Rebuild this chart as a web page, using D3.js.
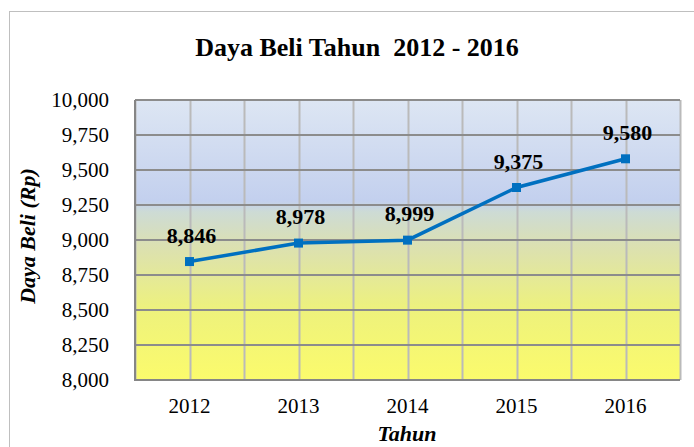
<!DOCTYPE html>
<meta charset="utf-8">
<style>
body { margin: 0; background: #fff; }
svg { display: block; }
svg text { font-family: "Times New Roman", Tinos, "Liberation Serif", "DejaVu Serif", serif; fill: #000; }
.tick text { font-size: 21px; }
.label { font-size: 22px; font-weight: bold; }
.title { font-size: 26px; font-weight: bold; white-space: pre; }
.axisTitle { font-size: 22px; font-weight: bold; font-style: italic; }
</style>
<body>
<script src="https://d3js.org/d3.v7.min.js"></script>
<script>

var years = ["2012", "2013", "2014", "2015", "2016"];
var dayaBeli = [8846, 8978, 8999, 9375, 9580];
var yTicks = [8000, 8250, 8500, 8750, 9000, 9250, 9500, 9750, 10000];

var serif = "'Times New Roman', Tinos, 'Liberation Serif', 'DejaVu Serif', serif";

var width = 694,
    height = 447;
var margin = {top: 100, right: 14, bottom: 67, left: 135};
var w = width - margin.left - margin.right,
    h = height - margin.top - margin.bottom;

var svg = d3.select("body").append("svg")
    .attr("width", width)
    .attr("height", height)
    .attr("font-family", serif);

// chart border
svg.append("rect")
    .attr("x", 9.5).attr("y", 11.5)
    .attr("width", width).attr("height", height)
    .attr("fill", "none")
    .attr("stroke", "#bfbfbf");

var defs = svg.append("defs");
var grad = defs.append("linearGradient")
    .attr("id", "bg")
    .attr("x1", 0).attr("y1", 0).attr("x2", 0).attr("y2", 1);
[["0%", "#dde6f3"], ["36%", "#c3d0ee"], ["40%", "#cddbd5"], ["52%", "#dbe0b2"], ["75%", "#eef27c"], ["100%", "#fbfb6c"]]
  .forEach(function(s) { grad.append("stop").attr("offset", s[0]).attr("stop-color", s[1]); });

var g = svg.append("g")
    .attr("transform", "translate(" + margin.left + "," + margin.top + ")");

var x = d3.scaleBand().domain(years).range([0, w]).padding(0);
var y = d3.scaleLinear().domain([8000, 10000]).range([h, 0]);

g.append("rect")
    .attr("width", w).attr("height", h)
    .attr("fill", "url(#bg)");

// vertical grid: band edges and centres
var vx = [];
years.forEach(function(d) { vx.push(x(d), x(d) + x.bandwidth() / 2); });
vx.push(w);
g.append("g").selectAll("line")
    .data(vx)
  .enter().append("line")
    .attr("x1", function(d) { return Math.round(d) + 0.5; })
    .attr("x2", function(d) { return Math.round(d) + 0.5; })
    .attr("y1", 0).attr("y2", h)
    .attr("stroke", "#bababa")
    .attr("stroke-width", 2);

// horizontal grid
g.append("g").selectAll("line")
    .data(yTicks)
  .enter().append("line")
    .attr("x1", 0).attr("x2", w)
    .attr("y1", function(d) { return Math.round(y(d)); })
    .attr("y2", function(d) { return Math.round(y(d)); })
    .attr("stroke", "#8c8c8c")
    .attr("stroke-width", 2);

// left / bottom axis line
g.append("path")
    .attr("d", "M0,0V" + h + "H" + w)
    .attr("fill", "none")
    .attr("stroke", "#868686")
    .attr("stroke-width", 2);

var yAxis = g.append("g")
    .call(d3.axisLeft(y).tickValues(yTicks).tickFormat(d3.format(",")).tickSize(0).tickPadding(26));
yAxis.select(".domain").remove();

var xAxis = g.append("g")
    .attr("transform", "translate(0," + h + ")")
    .call(d3.axisBottom(x).tickSize(0).tickPadding(18));
xAxis.select(".domain").remove();

g.selectAll(".tick text")
    .attr("fill", "#000")
    .attr("font-family", serif)
    .style("font-family", serif);
yAxis.attr("font-family", serif).attr("font-size", null);
xAxis.attr("font-family", serif).attr("font-size", null);

// line + markers
var line = d3.line()
    .x(function(d, i) { return x(years[i]) + x.bandwidth() / 2; })
    .y(function(d) { return y(d); });

g.append("path")
    .datum(dayaBeli)
    .attr("d", line)
    .attr("fill", "none")
    .attr("stroke", "#0070c0")
    .attr("stroke-width", 3.5);

g.selectAll("rect.marker")
    .data(dayaBeli)
  .enter().append("rect")
    .attr("class", "marker")
    .attr("x", function(d, i) { return x(years[i]) + x.bandwidth() / 2 - 4.5; })
    .attr("y", function(d) { return y(d) - 4.5; })
    .attr("width", 9).attr("height", 9)
    .attr("fill", "#0070c0");

g.selectAll("text.label")
    .data(dayaBeli)
  .enter().append("text")
    .attr("class", "label")
    .attr("text-anchor", "middle")
    .attr("x", function(d, i) { return x(years[i]) + x.bandwidth() / 2 + 2; })
    .attr("y", function(d) { return y(d) - 19; })
    .text(function(d) { return d3.format(",")(d); });

svg.append("text")
    .attr("class", "title")
    .attr("text-anchor", "middle")
    .attr("x", 357).attr("y", 56)
    .text("Daya Beli Tahun  2012 - 2016");

svg.append("text")
    .attr("class", "axisTitle")
    .attr("text-anchor", "middle")
    .attr("transform", "translate(35,236) rotate(-90)")
    .text("Daya Beli (Rp)");

svg.append("text")
    .attr("class", "axisTitle")
    .attr("text-anchor", "middle")
    .attr("x", 407).attr("y", 441)
    .text("Tahun");

</script>
</body>
